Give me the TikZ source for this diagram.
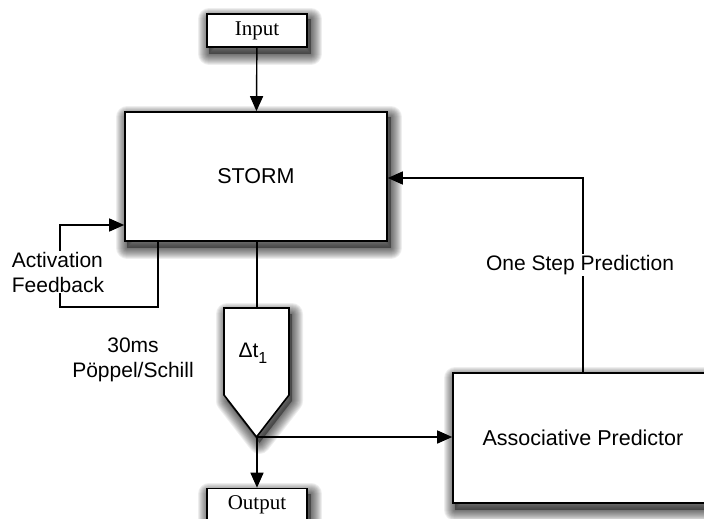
\documentclass[tikz,border=0pt]{standalone}
\usepackage{fontspec}
\setmainfont{Liberation Serif}
\setsansfont{Liberation Sans}
\usetikzlibrary{arrows.meta,backgrounds}

\tikzset{
  block/.style={draw, line width=1.6pt, fill=white, inner sep=0pt,
      font=\sffamily\fontsize{21.5}{26}\selectfont},
  io/.style={block, minimum width=100pt, minimum height=33pt,
      font=\rmfamily\fontsize{21}{25}\selectfont},
  link/.style={line width=1.4pt, black},
  flow/.style={link, -{Triangle[length=15pt,width=13pt,fill=black]}},
  lbl/.style={font=\sffamily\fontsize{21}{25}\selectfont, inner sep=1pt},
  shadowcore/.style={fill=black, opacity=0.40},
  shadowhalo/.style={draw=black, opacity=0.065, line join=round},
}

% soft drop shadow under a closed path, offset right and down
\newcommand\softshadow[1]{%
  \begin{scope}[transform canvas={shift={(3pt,-6pt)}}]
    \path[shadowcore] #1;
    \foreach \k in {1,...,11}{%
      \pgfmathsetmacro\halow{2*\k}%
      \path[shadowhalo, line width=\halow pt] #1;}
  \end{scope}}

\begin{document}
\begin{tikzpicture}[x=1pt, y=-1pt]
  \useasboundingbox (0,0) rectangle (704,519);

  % blocks
  \node[io] (in) at (257,30.5) {Input};
  \node[block, minimum width=262pt, minimum height=129pt] (storm) at (256,176.5) {STORM};
  \node[block, minimum width=260pt, minimum height=130pt] (ap) at (583,438) {Associative Predictor};
  \node[io] (out) at (257,505) {Output};

  % delay stage
  \path[draw, line width=1.6pt, fill=white]
    (224,308) -- (289,308) -- (289,395) -- (256.5,437) -- (224,395) -- cycle;
  \coordinate (dtop) at (257,308);
  \coordinate (dtip) at (257,437);
  \node[lbl] (dt) at (253,353)
    {Δt\raisebox{-0.3em}{\fontsize{16}{19}\selectfont 1}};

  % shadows beneath everything
  \begin{pgfonlayer}{background}
    \softshadow{(in.south west) rectangle (in.north east)}
    \softshadow{(storm.south west) rectangle (storm.north east)}
    \softshadow{(ap.south west) rectangle (ap.north east)}
    \softshadow{(out.south west) rectangle (out.north east)}
    \softshadow{(224,308) -- (289,308) -- (289,395) -- (256.5,437) -- (224,395) -- cycle}
  \end{pgfonlayer}

  % connectors
  \draw[flow] (in) -- (storm);
  \draw[link] (storm.south -| dtop) -- (dtop);
  \draw[flow] (dtip) -- (out);
  \draw[flow] (dtip) -- (dtip -| ap.west);

  % activation feedback loop
  \coordinate (fbA) at (158,241);
  \coordinate (fbB) at (60,307);
  \coordinate (fbC) at (60,225);
  \draw[flow] (fbA) |- (fbB) -- (fbC) -- (fbC -| storm.west);
  \node[lbl, fill=white, align=left] (fblbl) at (58,272) {Activation\\Feedback};

  % one step prediction loop
  \coordinate (pr) at (583,178);
  \draw[flow] (ap.north -| pr) -- (pr) -- (pr -| storm.east);
  \node[lbl, fill=white] (prlbl) at (580,265) {One Step Prediction};

  % timing note
  \node[lbl, align=center] (note) at (133,360) {30ms\\P\"oppel/Schill};
\end{tikzpicture}
\end{document}
